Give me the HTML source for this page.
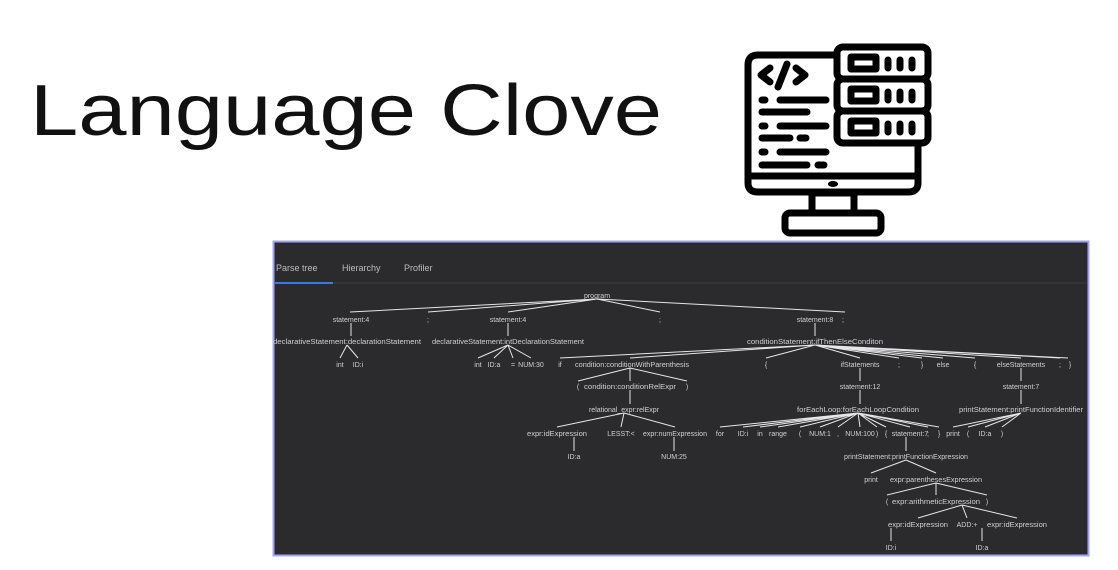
<!DOCTYPE html>
<html><head><meta charset="utf-8"><style>
html,body{margin:0;padding:0;background:#fff;width:1118px;height:570px;overflow:hidden}
svg{display:block}
.t{font-family:"Liberation Sans",sans-serif;font-size:7px;fill:#d0d0d0;text-anchor:middle}
.l{stroke:#e6e6e6;stroke-width:1;fill:none}
</style></head><body>
<svg width="1118" height="570" viewBox="0 0 1118 570">
<text x="30" y="135" font-family="Liberation Sans, sans-serif" font-size="72" fill="#111" textLength="632" lengthAdjust="spacingAndGlyphs">Language Clove</text>
<!-- icon -->
<g stroke="#000" stroke-width="7" fill="none" stroke-linecap="round" stroke-linejoin="round">
<path d="M836 55 H758 Q748 55 748 65 V183 Q748 192 758 192 H908 Q918 192 918 183 V145"/>
<line x1="748" y1="176" x2="918" y2="176"/>
<rect x="812" y="193" width="42" height="20" />
<rect x="785" y="213" width="96" height="20" rx="5"/>
<rect x="837" y="47" width="91" height="32" rx="6" fill="#fff"/>
<rect x="837" y="79" width="91" height="32" rx="6" fill="#fff"/>
<rect x="837" y="111" width="91" height="32" rx="6" fill="#fff"/>
<rect x="851" y="57" width="25" height="12"/><rect x="851" y="89" width="25" height="12"/><rect x="851" y="121" width="25" height="12"/>
<path d="M888 60v8M900 60v8M912 60v8M888 92v8M900 92v8M912 92v8M888 124v8M900 124v8M912 124v8"/>
<path d="M770 68l-9 7 9 7M778 87l9-23M796 68l9 7-9 7"/>
<path d="M762 100h3M780 100h46M762 112h45M762 126h3M780 126h46M762 138h28M800 138h6M762 152h3M780 152h46M762 165h45M818 165h6"/>
<ellipse cx="833" cy="184" rx="4" ry="2" fill="#000" stroke-width="2"/>
</g>
<!-- panel -->
<rect x="273.5" y="241.5" width="815" height="314" fill="#2b2b2e" stroke="#a4a4f2" stroke-width="2"/>
<line x1="275" y1="283" x2="1087" y2="283" stroke="#3b3b3e"/>
<line x1="275" y1="283" x2="333" y2="283" stroke="#3a7ae0" stroke-width="2"/>
<g font-family="Liberation Sans, sans-serif" font-size="9" fill="#bdbdbd">
<text x="276" y="271">Parse tree</text><text x="342" y="271">Hierarchy</text><text x="404" y="271">Profiler</text>
</g>
<g class="l">
<path d="M597 299L350 312M597 299L428 312M597 299L508 312M597 299L660 312M597 299L845 312"/>
<path d="M351 323V336M508 323V336M815 323V336"/>
<path d="M347 345L340 358M347 345L358 358"/>
<path d="M508 345L478 358M508 345L494 358M508 345L513 358M508 345L531 358"/>
<path d="M815 345L560 358M815 345L630 358M815 345L766 358M815 345L860 358M815 345L899 358M815 345L922 358M815 345L943 358M815 345L975 358M815 345L1021 358M815 345L1060 358M815 345L1068 358"/>
<path d="M630 368L578 381M630 368V381M630 368L687 381"/>
<path d="M860 368V381M1021 368V381M630 390V404M860 390V404M1021 390V404"/>
<path d="M624 413L557 427M624 413L621 427M624 413L675 427"/>
<path d="M858 413L720 427M858 413L743 427M858 413L760 427M858 413L778 427M858 413L800 427M858 413L820 427M858 413L838 427M858 413L860 427M858 413L877 427M858 413L886 427M858 413L910 427M858 413L928 427M858 413L939 427"/>
<path d="M1021 413L953 427M1021 413L968 427M1021 413L985 427M1021 413L1002 427"/>
<path d="M574 437V451M674 437V451M906 437V451"/>
<path d="M906 460L871 473M906 460L936 473"/>
<path d="M936 483L887 495M936 483V495M936 483L987 495"/>
<path d="M962 505L918 518M962 505L967 518M962 505L1017 518"/>
<path d="M891 528V541M982 528V541"/>
</g>
<g class="t">
<text x="597" y="298">program</text>
<text x="351" y="322">statement:4</text><text x="428" y="322">;</text><text x="508" y="322">statement:4</text><text x="660" y="322">;</text><text x="815" y="322">statement:8</text><text x="843" y="322">;</text>
<text x="347" y="344" textLength="148" lengthAdjust="spacingAndGlyphs">declarativeStatement:declarationStatement</text>
<text x="508" y="344" textLength="152" lengthAdjust="spacingAndGlyphs">declarativeStatement:intDeclarationStatement</text>
<text x="815" y="344" textLength="136" lengthAdjust="spacingAndGlyphs">conditionStatement:ifThenElseConditon</text>
<text x="340" y="367">int</text><text x="358" y="367">ID:i</text>
<text x="478" y="367">int</text><text x="494" y="367">ID:a</text><text x="513" y="367">=</text><text x="531" y="367">NUM:30</text>
<text x="560" y="367">if</text><text x="632" y="367" textLength="114" lengthAdjust="spacingAndGlyphs">condition:conditionWithParenthesis</text>
<text x="766" y="367">{</text><text x="860" y="367">ifStatements</text><text x="899" y="367">;</text><text x="922" y="367">}</text><text x="943" y="367">else</text><text x="975" y="367">{</text><text x="1021" y="367">elseStatements</text><text x="1060" y="367">;</text><text x="1070" y="367">}</text>
<text x="578" y="389">(</text><text x="630" y="389" textLength="92" lengthAdjust="spacingAndGlyphs">condition:conditionRelExpr</text><text x="687" y="389">)</text>
<text x="860" y="389">statement:12</text><text x="1021" y="389">statement:7</text>
<text x="624" y="412">relational_expr:relExpr</text>
<text x="858" y="412" textLength="122" lengthAdjust="spacingAndGlyphs">forEachLoop:forEachLoopCondition</text>
<text x="1021" y="412" textLength="124" lengthAdjust="spacingAndGlyphs">printStatement:printFunctionIdentifier</text>
<text x="557" y="436" textLength="60" lengthAdjust="spacingAndGlyphs">expr:idExpression</text><text x="621" y="436">LESST:&lt;</text><text x="675" y="436" textLength="64" lengthAdjust="spacingAndGlyphs">expr:numExpression</text>
<text x="720" y="436">for</text><text x="743" y="436">ID:i</text><text x="760" y="436">in</text><text x="778" y="436">range</text><text x="800" y="436">(</text><text x="820" y="436">NUM:1</text><text x="838" y="436">,</text><text x="860" y="436">NUM:100</text><text x="877" y="436">)</text><text x="886" y="436">{</text><text x="910" y="436">statement:7</text><text x="928" y="436">;</text><text x="939" y="436">}</text>
<text x="953" y="436">print</text><text x="968" y="436">(</text><text x="985" y="436">ID:a</text><text x="1002" y="436">)</text>
<text x="574" y="459">ID:a</text><text x="674" y="459">NUM:25</text><text x="906" y="459" textLength="124" lengthAdjust="spacingAndGlyphs">printStatement:printFunctionExpression</text>
<text x="871" y="482">print</text><text x="936" y="482" textLength="92" lengthAdjust="spacingAndGlyphs">expr:parenthesesExpression</text>
<text x="887" y="504">(</text><text x="936" y="504" textLength="88" lengthAdjust="spacingAndGlyphs">expr:arithmeticExpression</text><text x="987" y="504">)</text>
<text x="918" y="527" textLength="60" lengthAdjust="spacingAndGlyphs">expr:idExpression</text><text x="967" y="527">ADD:+</text><text x="1017" y="527" textLength="60" lengthAdjust="spacingAndGlyphs">expr:idExpression</text>
<text x="891" y="550">ID:i</text><text x="982" y="550">ID:a</text>
</g>
</svg>
</body></html>
